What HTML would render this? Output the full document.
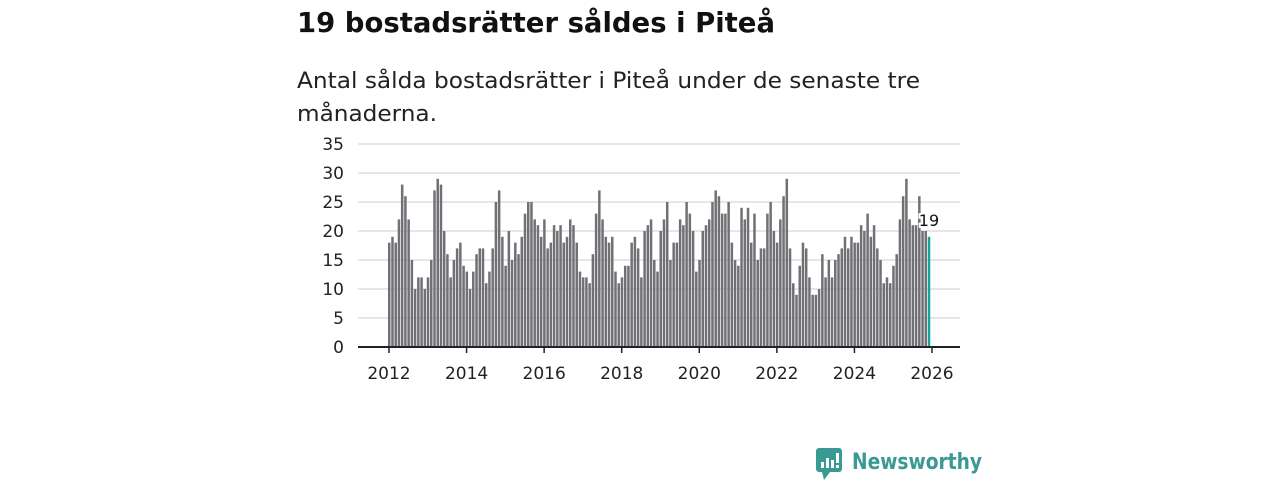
<!DOCTYPE html>
<html><head><meta charset="utf-8"><style>
body{margin:0;background:#fff;width:1280px;height:480px;overflow:hidden;font-family:"DejaVu Sans","Liberation Sans",sans-serif;}
</style></head><body>
<svg width="1280" height="480">
<text x="297" y="32" font-size="28" font-weight="bold" fill="#111" textLength="478" lengthAdjust="spacingAndGlyphs">19 bostadsrätter såldes i Piteå</text>
<text x="297" y="88" font-size="22" fill="#222" textLength="623" lengthAdjust="spacingAndGlyphs">Antal sålda bostadsrätter i Piteå under de senaste tre</text>
<text x="297" y="121" font-size="22" fill="#222" textLength="140" lengthAdjust="spacingAndGlyphs">månaderna.</text>
<g id="grid"></g><g id="bars"></g><g id="axis"></g>
<g>
<rect x="816" y="448" width="26" height="24" rx="3" fill="#3a9a93"/>
<polygon points="822,472 830,472 824,480" fill="#3a9a93"/>
<rect x="821" y="462" width="3" height="6" fill="#fff"/><rect x="826" y="458" width="3" height="10" fill="#fff"/><rect x="831" y="460" width="3" height="8" fill="#fff"/><rect x="836" y="453" width="3" height="10" fill="#fff"/><rect x="836" y="465" width="3" height="3" fill="#fff"/>
<text x="852" y="469" font-size="22" font-weight="bold" fill="#3a9a93" textLength="130" lengthAdjust="spacingAndGlyphs">Newsworthy</text>
</g>
</svg>
<script>
const values=[18,19,18,22,28,26,22,15,10,12,12,10,12,15,27,29,28,20,16,12,15,17,18,14,13,10,13,16,17,17,11,13,17,25,27,19,14,20,15,18,16,19,23,25,25,22,21,19,22,17,18,21,20,21,18,19,22,21,18,13,12,12,11,16,23,27,22,19,18,19,13,11,12,14,14,18,19,17,12,20,21,22,15,13,20,22,25,15,18,18,22,21,25,23,20,13,15,20,21,22,25,27,26,23,23,25,18,15,14,24,22,24,18,23,15,17,17,23,25,20,18,22,26,29,17,11,9,14,18,17,12,9,9,10,16,12,15,12,15,16,17,19,17,19,18,18,21,20,23,19,21,17,15,11,12,11,14,16,22,26,29,22,21,21,26,20,20,19];
const yTicks=[0,5,10,15,20,25,30,35];
const xTickYears=[2012,2014,2016,2018,2020,2022,2024,2026];
const startYear=2012;
const NS="http://www.w3.org/2000/svg";
const y0=347,yTop=144,yMax=35,x0=389,x1=932;
const ys=v=>y0-(v/yMax)*(y0-yTop);
const xs=m=>x0+(m/12)*((x1-x0)/(xTickYears[xTickYears.length-1]-startYear));
function mk(t,a,p){const e=document.createElementNS(NS,t);for(const k in a)e.setAttribute(k,a[k]);p.appendChild(e);return e;}
const grid=document.getElementById('grid'),bars=document.getElementById('bars'),axis=document.getElementById('axis');
yTicks.forEach(v=>{
 if(v>0){const l=mk('line',{x1:358,x2:960,y1:ys(v),y2:ys(v),stroke:'#ddd','stroke-width':1.5},grid);
 
 }
 const t=mk('text',{x:344,y:ys(v)+6,'font-size':17,'text-anchor':'end',fill:'#222'},grid);t.textContent=v;
 
 
});
values.forEach((v,i)=>{
 const last=i===values.length-1;
 const r=mk('rect',{x:xs(i)-1,y:ys(v),width:2.5,height:y0-ys(v),fill:last?'#1aa39a':'#717075'},bars);
 
 
});
const li=values.length-1;
const lab=mk('text',{x:xs(li)-10,y:ys(values[li])-11,'font-size':16,fill:'#111',stroke:'#fff','stroke-width':4,'paint-order':'stroke'},bars);
lab.textContent=values[li];


const base=mk('line',{x1:358,x2:960,y1:y0,y2:y0,stroke:'#222','stroke-width':2},axis);


xTickYears.forEach(yr=>{
 const x=xs((yr-startYear)*12);
 mk('line',{x1:x,x2:x,y1:y0,y2:y0+6,stroke:'#222','stroke-width':1.5},axis);
 const t=mk('text',{x:x,y:379,'font-size':17,'text-anchor':'middle',fill:'#222'},axis);t.textContent=yr;
 
 
});
</script>
</body></html>
